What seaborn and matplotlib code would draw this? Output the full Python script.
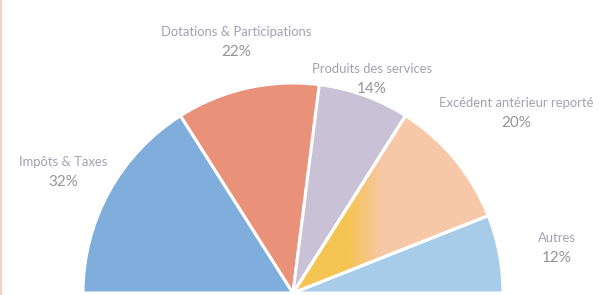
import numpy as np
import matplotlib
matplotlib.use("Agg")
import matplotlib.pyplot as plt
import seaborn as sns
from matplotlib.lines import Line2D

# ---- data ----
categories = ["Impôts & Taxes", "Dotations & Participations", "Produits des services",
              "Excédent antérieur reporté", "Autres"]
shares = [32, 22, 14, 20, 12]

# ---- style ----
colors = ["#80AEDC", "#E99279", "#C9C1D6", "#F7C7A5", "#A7CCEA"]
label_dist = [1.25, 1.25, 1.11, 1.38, 1.28]   # in radii
name_color = "#A2A0B4"
pct_color = "#94949C"

sns.set_theme(style="white")
plt.rcParams["font.family"] = ["Lato", "DejaVu Sans"]

W, H = 612, 295
fig = plt.figure(figsize=(W / 100, H / 100), dpi=100)
ax = fig.add_axes([0, 0, 1, 1])

R = 210.0
cx_px, cy_px = 293, 293  # pixel position of pie centre (from top-left)

vals = shares + [sum(shares)]       # hidden lower half
cols = colors + ["none"]
wedges, _ = ax.pie(vals, colors=cols, startangle=180, counterclock=False,
                   radius=R, center=(0, 0),
                   wedgeprops=dict(edgecolor="white", linewidth=2.2))
wedges[-1].set_visible(False)

# yellow-to-peach gradient inside the "Excédent" wedge
w = wedges[3]
verts = w.get_path().vertices
x0, x1 = verts[:, 0].min(), verts[:, 0].max()
y0, y1 = verts[:, 1].min(), verts[:, 1].max()
t = np.linspace(0, 1, 256)
grad = np.clip((t - 0.28) / 0.18, 0, 1)
c1 = np.array(matplotlib.colors.to_rgb("#F5C452"))
c2 = np.array(matplotlib.colors.to_rgb("#F7C8A8"))
img = (c1[None, :] * (1 - grad[:, None]) + c2[None, :] * grad[:, None])[None, :, :]
im = ax.imshow(img, extent=(x0, x1, y0, y1), aspect="auto", zorder=w.get_zorder() - 0.005,
               interpolation="bilinear")
im.set_clip_path(w)
w.set_facecolor("none")
w.set_zorder(w.get_zorder() + 0.01)

# labels
for wd, name, s, d in zip(wedges[:-1], categories, shares, label_dist):
    ang = np.deg2rad((wd.theta1 + wd.theta2) / 2)
    x = d * R * np.cos(ang)
    y = d * R * np.sin(ang)
    ax.text(x, y - 1, name, ha="center", va="bottom", fontsize=9.4, color=name_color)
    ax.text(x, y - 8, f"{s}%", ha="center", va="top", fontsize=11, color=pct_color)

ax.set_xlim(-cx_px, W - cx_px)
ax.set_ylim(cy_px - H, cy_px)
ax.set_aspect("auto")
ax.axis("off")

# faint left border of the original scan
fig.add_artist(Line2D([0.002, 0.002], [0, 1], transform=fig.transFigure,
                      color="#F6CFC6", linewidth=1.5))

fig.savefig("out.png", dpi=100, facecolor="white")
